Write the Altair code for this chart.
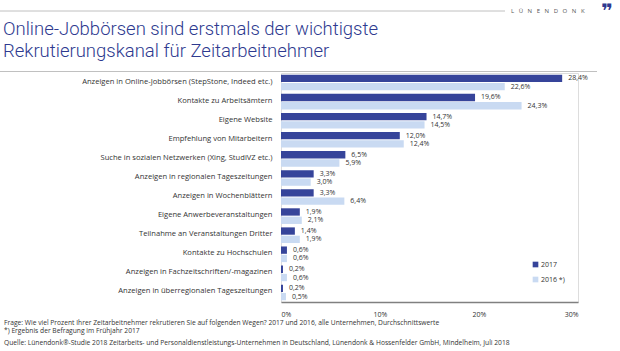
import altair as alt
import pandas as pd

categories = [
    "Anzeigen in Online-Jobbörsen (StepStone, Indeed etc.)",
    "Kontakte zu Arbeitsämtern",
    "Eigene Website",
    "Empfehlung von Mitarbeitern",
    "Suche in sozialen Netzwerken (Xing, StudiVZ etc.)",
    "Anzeigen in regionalen Tageszeitungen",
    "Anzeigen in Wochenblättern",
    "Eigene Anwerbeveranstaltungen",
    "Teilnahme an Veranstaltungen Dritter",
    "Kontakte zu Hochschulen",
    "Anzeigen in Fachzeitschriften/-magazinen",
    "Anzeigen in überregionalen Tageszeitungen",
]
v2017 = [28.4, 19.6, 14.7, 12.0, 6.5, 3.3, 3.3, 1.9, 1.4, 0.6, 0.2, 0.2]
v2016 = [22.6, 24.3, 14.5, 12.4, 5.9, 3.0, 6.4, 2.1, 1.9, 0.6, 0.6, 0.5]
series_names = ["2017", "2016 *)"]
ticks = [0, 10, 20, 30]

title_text = "Online-Jobbörsen sind erstmals der wichtigste\nRekrutierungskanal für Zeitarbeitnehmer"
footnotes = [
    "Frage: Wie viel Prozent Ihrer Zeitarbeitnehmer rekrutieren Sie auf folgenden Wegen? 2017 und 2016, alle Unternehmen, Durchschnittswerte",
    "*) Ergebnis der Befragung im Frühjahr 2017",
    "Quelle: Lünendonk®-Studie 2018 Zeitarbeits- und Personaldienstleistungs-Unternehmen in Deutschland, Lünendonk & Hossenfelder GmbH, Mindelheim, Juli 2018",
]
brand = "LÜNENDONK"

C2017 = "#36449a"
C2016 = "#c9daf2"
TITLE_C = "#2e3a8f"
FONT = "Open Sans"

rows = []
for c, a, b in zip(categories, v2017, v2016):
    rows.append({"category": c, "series": series_names[0], "value": a})
    rows.append({"category": c, "series": series_names[1], "value": b})
df = pd.DataFrame(rows)

base = alt.Chart(df)

yenc = alt.Y("category:N", sort=categories,
             scale=alt.Scale(paddingInner=0.18, paddingOuter=0.09),
             axis=alt.Axis(title=None, domain=False, ticks=False, labelFontSize=7.6,
                           labelColor="#333333", labelPadding=9, labelFont=FONT,
                           labelLimit=300, labelOffset=-1))
yoff = alt.YOffset("series:N", sort=series_names,
                   scale=alt.Scale(domain=series_names, paddingInner=0.12, paddingOuter=0))
xenc = alt.X("value:Q", scale=alt.Scale(domain=[0, 30]),
             axis=alt.Axis(values=ticks, labelExpr="datum.value + '%'", grid=False,
                           ticks=False, domainColor="#808080", domainWidth=1.5,
                           labelPadding=8, title=None, labelFontSize=7,
                           labelColor="#333333", labelFont=FONT))

bars = base.mark_bar().encode(
    y=yenc, yOffset=yoff, x=xenc,
    color=alt.Color("series:N",
                    scale=alt.Scale(domain=series_names, range=[C2017, C2016]),
                    legend=alt.Legend(orient="none", legendX=251, legendY=188, title=None,
                                      symbolType="square", symbolSize=32,
                                      symbolStrokeWidth=0, labelFontSize=7,
                                      labelFont=FONT, labelColor="#333333",
                                      rowPadding=7, labelOffset=2)),
)

labels = base.transform_calculate(
    lbl="replace(format(datum.value, '.1f'), '.', ',') + '%'"
).mark_text(align="left", baseline="middle", dx=6, fontSize=7, font=FONT,
            color="#333333").encode(
    y=yenc,
    yOffset=yoff,
    x=xenc,
    text="lbl:N",
)

def note(text, x, y, size, color="#333333", weight="normal", font=FONT, align="left",
         baseline="alphabetic", **kw):
    return alt.Chart(pd.DataFrame({"t": [text]})).mark_text(
        align=align, baseline=baseline, fontSize=size, color=color, fontWeight=weight,
        font=font, **kw).encode(x=alt.value(x), y=alt.value(y), text="t:N")

OX, OY = 281, 73

title = note(title_text, 3 - OX, 35 - OY, 18.5, TITLE_C, 300, "Roboto", lineBreak="\n",
             lineHeight=21.5)
f1 = note(footnotes[0], 4 - OX, 325 - OY, 6.7)
f2 = note(footnotes[1], 4 - OX, 333 - OY, 6.7)
f3 = note(footnotes[2], 4 - OX, 345 - OY, 6.7)
brand_txt = note("\u2002 ".join(list(brand)), 511 - OX, 11 - OY, 6, "#555555",
                 baseline="middle")
quote = note("\u275e", 607 - OX, 12 - OY, 20, TITLE_C, "bold", "DejaVu Sans",
             align="center", baseline="middle")

rule_top = alt.Chart(pd.DataFrame({"a": [0]})).mark_rule(color="#c0c0c0", strokeWidth=1).encode(
    x=alt.value(0 - OX), x2=alt.value(505 - OX), y=alt.value(11 - OY))
rule_mid = alt.Chart(pd.DataFrame({"a": [0]})).mark_rule(color="#c0c0c0", strokeWidth=1).encode(
    x=alt.value(0 - OX), x2=alt.value(597 - OX), y=alt.value(71.5 - OY))

chart = alt.layer(
    rule_top, rule_mid, bars, labels, title, f1, f2, f3, brand_txt, quote
).properties(
    width=297, height=229,
    autosize=alt.AutoSizeParams(type="none"),
    padding={"left": OX, "top": OY, "right": 42, "bottom": 49},
).configure_view(stroke=None).configure(background="white")

chart.save("out.html", embed_options={"renderer": "svg", "actions": False})
